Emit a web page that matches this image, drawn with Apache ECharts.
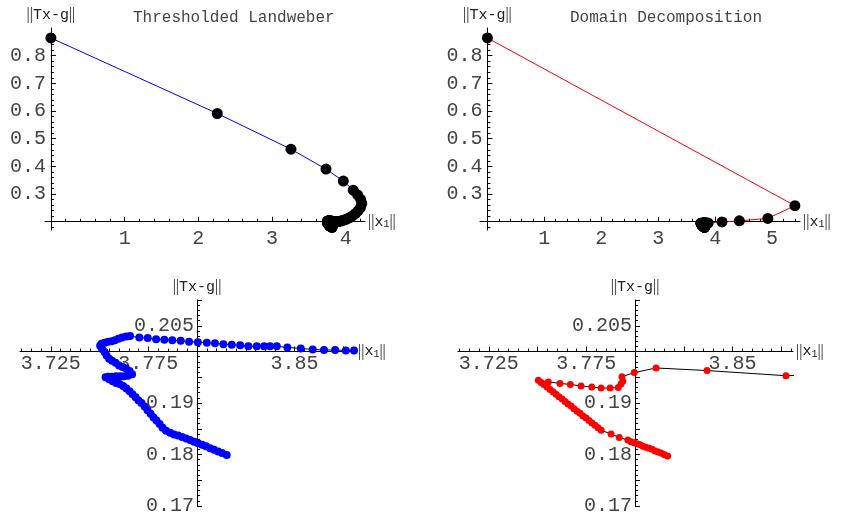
<!DOCTYPE html>
<html><head><meta charset="utf-8">
<script src="https://cdn.jsdelivr.net/npm/echarts@6/dist/echarts.min.js"></script>
<style>html,body{margin:0;padding:0;background:#fff}#c{width:844px;height:519px}</style>
</head><body><div id="c"></div>
<script>
// ---- data ----
const landweberX = [0, 2.257, 3.256, 3.731, 3.966, 4.100, 4.160, 4.200, 4.216, 4.198, 4.165, 4.128, 4.088, 4.046, 4.003, 3.962, 3.930, 3.905, 3.889,
  3.8805, 3.8763, 3.8708, 3.8651, 3.8593, 3.8532, 3.8463, 3.8409, 3.8374, 3.8344, 3.8306, 3.8263, 3.8221, 3.8178, 3.8135, 3.8092, 3.8050, 3.8004, 3.7959, 3.7916, 3.7873, 3.7832, 3.7790, 3.7747, 3.7704, 3.7656,
  3.7636, 3.7615, 3.7597, 3.7579, 3.7562, 3.7544, 3.7526, 3.7510, 3.7503,
  3.7513, 3.7526, 3.7536, 3.7549, 3.7564, 3.7582, 3.7600, 3.7618, 3.7636, 3.7654, 3.7667,
  3.7646, 3.7626, 3.7605, 3.7585, 3.7564, 3.7544, 3.7531,
  3.7549, 3.7567, 3.7585, 3.7603, 3.7621, 3.7638, 3.7654, 3.7669, 3.7685, 3.7700, 3.7715, 3.7731, 3.7746, 3.7762, 3.7777, 3.7792, 3.7808, 3.7823, 3.7841, 3.7862, 3.7882, 3.7903, 3.7923, 3.7944, 3.7964, 3.7985, 3.8005, 3.8026, 3.8046, 3.8067, 3.8087, 3.8108, 3.8128, 3.8152];
const landweberY = [0.864, 0.591, 0.462, 0.390, 0.347, 0.314, 0.297, 0.281, 0.266, 0.251, 0.239, 0.229, 0.221, 0.214, 0.2085, 0.2048, 0.2025, 0.2011, 0.2004,
  0.2002, 0.2002, 0.2003, 0.2003, 0.2004, 0.2006, 0.2008, 0.2010, 0.2010, 0.2010, 0.2010, 0.2010, 0.2012, 0.2013, 0.2014, 0.2016, 0.2017, 0.2018, 0.2019, 0.2021, 0.2022, 0.2023, 0.2024, 0.2026, 0.2027, 0.2030,
  0.2029, 0.2027, 0.2025, 0.2022, 0.2020, 0.2019, 0.2017, 0.2015, 0.2011,
  0.2005, 0.1999, 0.1992, 0.1986, 0.1982, 0.1978, 0.1973, 0.1970, 0.1967, 0.1962, 0.1956,
  0.1953, 0.1952, 0.1952, 0.1952, 0.1951, 0.1951, 0.1950,
  0.1946, 0.1942, 0.1939, 0.1937, 0.1933, 0.1928, 0.1923, 0.1917, 0.1911, 0.1905, 0.1900, 0.1893, 0.1886, 0.1879, 0.1872, 0.1866, 0.1859, 0.1852, 0.1846, 0.1842, 0.1839, 0.1837, 0.1834, 0.1831, 0.1828, 0.1825, 0.1822, 0.1819, 0.1816, 0.1812, 0.1809, 0.1806, 0.1803, 0.1799];

const domainX = [0, 5.40, 4.925, 4.425, 4.12, 3.8774, 3.8369, 3.8108, 3.7996, 3.7933, 3.7937, 3.7928, 3.7914, 3.7872, 3.7826, 3.7778, 3.7723, 3.7668, 3.7615, 3.7555, 3.7504,
  3.7518, 3.7533, 3.7549, 3.7564, 3.7579, 3.7595, 3.7610, 3.7626, 3.7641, 3.7656, 3.7672, 3.7687, 3.7703, 3.7718, 3.7733, 3.7749, 3.7764, 3.7779, 3.7795, 3.7810, 3.7826,
  3.7877, 3.7919, 3.7963,
  3.7979, 3.7995, 3.8010, 3.8026, 3.8041, 3.8056, 3.8072, 3.8087, 3.8103, 3.8118, 3.8133, 3.8149, 3.8167];
const domainY = [0.864, 0.258, 0.212, 0.203, 0.199, 0.1953, 0.1963, 0.1968, 0.1959, 0.1951, 0.1942, 0.1937, 0.1930, 0.1929, 0.1929, 0.1931, 0.1933, 0.1936, 0.1938, 0.1941, 0.1944,
  0.1940, 0.1936, 0.1931, 0.1926, 0.1922, 0.1917, 0.1912, 0.1908, 0.1903, 0.1898, 0.1894, 0.1889, 0.1884, 0.1880, 0.1875, 0.1871, 0.1866, 0.1861, 0.1857, 0.1852, 0.1847,
  0.1840, 0.1833, 0.1828,
  0.1825, 0.1823, 0.1821, 0.1819, 0.1816, 0.1814, 0.1812, 0.1810, 0.1807, 0.1805, 0.1803, 0.1800, 0.1797];

const titles = ['Thresholded Landweber', 'Domain Decomposition'];
const yName = '{b|||}{t|Tx-g}{b|||}';
const xName = '{b|||}{t|x}{s|1}{b|||}';
const topYLabels = [0.3, 0.4, 0.5, 0.6, 0.7, 0.8];
const leftXLabels = [1, 2, 3, 4];
const rightXLabels = [1, 2, 3, 4, 5];
const zoomXLabels = [3.725, 3.775, 3.85];
const zoomYLabels = [0.17, 0.18, 0.19, 0.205];

// ---- helpers ----
function range(a, b, step) {
  const out = []; const n = Math.round((b - a) / step);
  for (let i = 0; i <= n; i++) out.push(+(a + i * step).toFixed(6));
  return out;
}
function pairs(xs, ys) { return xs.map((x, i) => [x, ys[i]]); }

const MONO = 'Liberation Mono';
const TXT = '#444';
const nameRich = {
  b: { fontFamily: 'Liberation Serif', fontSize: 16, color: '#222' },
  t: { fontFamily: MONO, fontSize: 15, color: '#222' },
  s: { fontFamily: MONO, fontSize: 10, color: '#222', padding: [6, 0, 0, 0] }
};

const panels = [
  { grid: { left: 45, top: 28, width: 320, height: 202 }, x: [-0.08, 4.26], y: [0.17, 0.9], x0: 0, y0: 0.2,
    xLab: leftXLabels, xMaj: range(0, 4, 1), xMin: range(0, 4.2, 0.2), xMargin: 7,
    yLab: topYLabels, yMaj: range(0.2, 0.8, 0.1), yMin: range(0.18, 0.88, 0.02), yMargin: 5,
    data: pairs(landweberX, landweberY), line: '#0000ff', dot: '#000', size: 11 },
  { grid: { left: 480, top: 28, width: 320, height: 202 }, x: [-0.13, 5.49], y: [0.17, 0.9], x0: 0, y0: 0.2,
    xLab: rightXLabels, xMaj: range(0, 5, 1), xMin: range(0, 5.4, 0.2), xMargin: 7,
    yLab: topYLabels, yMaj: range(0.2, 0.8, 0.1), yMin: range(0.18, 0.88, 0.02), yMargin: 5,
    data: pairs(domainX, domainY), line: '#ff0000', dot: '#000', size: 11 },
  { grid: { left: 20, top: 300, width: 335, height: 206 }, x: [3.7092, 3.881], y: [0.17, 0.21], x0: 3.8, y0: 0.2,
    xLab: zoomXLabels, xMaj: range(3.725, 3.875, 0.025), xMin: range(3.71, 3.88, 0.005), xMargin: 2,
    yLab: zoomYLabels, yMaj: range(0.17, 0.21, 0.005), yMin: range(0.17, 0.21, 0.001), yMargin: 3,
    data: pairs(landweberX, landweberY), line: '#000', dot: '#0000ff', size: 8 },
  { grid: { left: 458, top: 300, width: 335, height: 206 }, x: [3.7092, 3.881], y: [0.17, 0.21], x0: 3.8, y0: 0.2,
    xLab: zoomXLabels, xMaj: range(3.725, 3.875, 0.025), xMin: range(3.71, 3.88, 0.005), xMargin: 2,
    yLab: zoomYLabels, yMaj: range(0.17, 0.21, 0.005), yMin: range(0.17, 0.21, 0.001), yMargin: 3,
    data: pairs(domainX, domainY), line: '#000', dot: '#ff0000', size: 7 }
];

const grid = [], xAxis = [], yAxis = [], series = [];
panels.forEach((p, i) => {
  grid.push(Object.assign({ containLabel: false }, p.grid));
  const xOff = -(p.y0 - p.y[0]) / (p.y[1] - p.y[0]) * p.grid.height;
  const yOff = -(p.x0 - p.x[0]) / (p.x[1] - p.x[0]) * p.grid.width;
  const lineStyle = { color: '#000', width: 1 };
  const labelStyle = { fontFamily: MONO, fontSize: 20, color: TXT };
  xAxis.push({ type: 'value', gridIndex: i, position: 'bottom', offset: xOff, min: p.x[0], max: p.x[1],
    axisLine: { show: true, onZero: false, lineStyle },
    axisTick: { show: true, inside: true, length: 5, customValues: p.xMaj, lineStyle },
    axisLabel: Object.assign({ customValues: p.xLab, margin: p.xMargin }, labelStyle),
    splitLine: { show: false },
    name: xName, nameLocation: 'end', nameGap: 3,
    nameTextStyle: { verticalAlign: 'middle', rich: nameRich } });
  xAxis.push({ type: 'value', gridIndex: i, position: 'bottom', offset: xOff, min: p.x[0], max: p.x[1],
    axisLine: { show: false }, axisLabel: { show: false }, splitLine: { show: false },
    axisTick: { show: true, inside: true, length: 3, customValues: p.xMin, lineStyle } });
  yAxis.push({ type: 'value', gridIndex: i, position: 'left', offset: yOff, min: p.y[0], max: p.y[1],
    axisLine: { show: true, onZero: false, lineStyle },
    axisTick: { show: true, inside: true, length: 5, customValues: p.yMaj, lineStyle },
    axisLabel: Object.assign({ customValues: p.yLab, margin: p.yMargin }, labelStyle),
    splitLine: { show: false },
    name: yName, nameLocation: 'end', nameGap: 5,
    nameTextStyle: { align: 'center', rich: nameRich } });
  yAxis.push({ type: 'value', gridIndex: i, position: 'left', offset: yOff, min: p.y[0], max: p.y[1],
    axisLine: { show: false }, axisLabel: { show: false }, splitLine: { show: false },
    axisTick: { show: true, inside: true, length: 3, customValues: p.yMin, lineStyle } });
  series.push({ type: 'line', xAxisIndex: 2 * i, yAxisIndex: 2 * i, data: p.data, clip: true,
    lineStyle: { color: p.line, width: 1 }, symbol: 'circle', symbolSize: p.size, showSymbol: true,
    itemStyle: { color: p.dot, borderWidth: 0 }, emphasis: { disabled: true }, z: 3 });
});

const chart = echarts.init(document.getElementById('c'), null, { renderer: 'canvas' });
chart.setOption({
  animation: false,
  backgroundColor: '#fff',
  grid, xAxis, yAxis, series,
  graphic: [
    { type: 'text', left: 236 - 103, top: 10, style: { text: titles[0], font: '16px "Liberation Mono"', fill: TXT } },
    { type: 'text', left: 668 - 98, top: 10, style: { text: titles[1], font: '16px "Liberation Mono"', fill: TXT } }
  ]
});
</script></body></html>
